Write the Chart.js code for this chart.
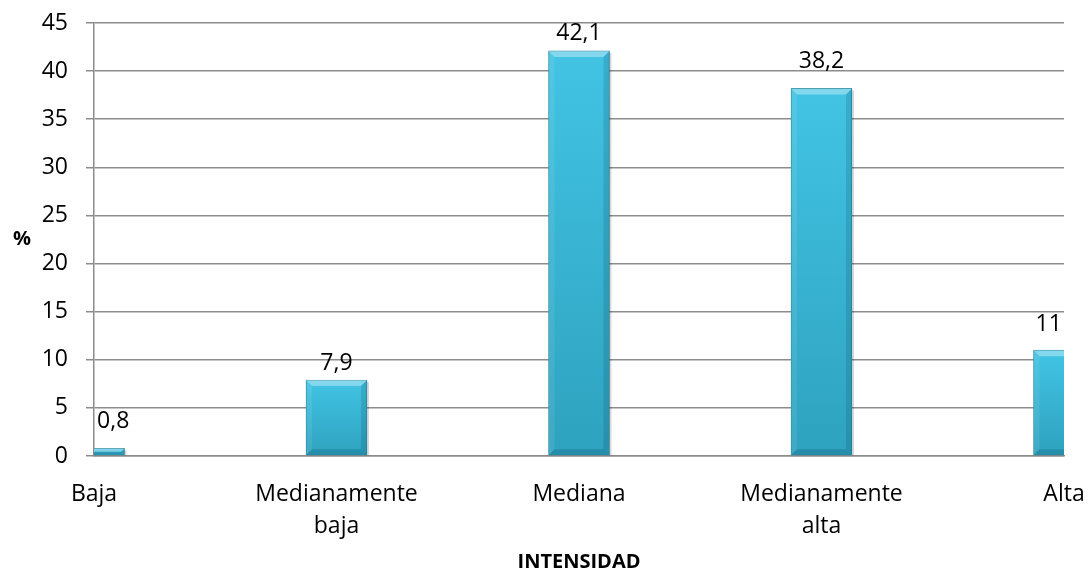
<!DOCTYPE html>
<html>
<head>
<meta charset="utf-8">
<script src="https://cdn.jsdelivr.net/npm/chart.js@4.4.1/dist/chart.umd.min.js"></script>
<style>
  html, body { margin: 0; padding: 0; background: #fff; }
  #wrap { width: 1090px; height: 574px; }
</style>
</head>
<body>
<div id="wrap"><canvas id="chart"></canvas></div>
<script>
// Data
const categories = ["Baja", ["Medianamente", "baja"], "Mediana", ["Medianamente", "alta"], "Alta"];
const percentages = [0.8, 7.9, 42.1, 38.2, 11];
const yMin = 0;
const yMax = 45;
const yStep = 5;
const xTitle = "INTENSIDAD";
const yTitle = "%";

// how far above each bar its value sits (px)
const labelLift = [27, 17, 17, 27, 26];

const FONT = "'Open Sans', 'Liberation Sans', sans-serif";
const GRID = "#8c8c8c";

// Bar gradient, light at the top, darker at the base
function barFill(context) {
    const chart = context.chart;
    const y = chart.scales.y;
    if (!chart.chartArea || !y) return "#3bbad9";
    const top = y.getPixelForValue(context.raw);
    const bottom = y.getPixelForValue(0);
    const g = chart.ctx.createLinearGradient(0, top, 0, bottom);
    g.addColorStop(0, "#42c4e4");
    g.addColorStop(1, "#2ea2bf");
    return g;
}

// Shadow + bevel + value labels
const barExtras = {
    id: "barExtras",
    beforeDatasetsDraw(chart) {
        const { ctx, chartArea: a } = chart;
        ctx.save();
        ctx.beginPath();
        ctx.rect(a.left, a.top, a.right - a.left, a.bottom - a.top);
        ctx.clip();
        chart.getDatasetMeta(0).data.forEach(bar => {
            const l = bar.x - bar.width / 2;
            ctx.fillStyle = "rgba(0,0,0,0.15)";
            ctx.fillRect(l + 2, bar.y + 2, bar.width, bar.base - bar.y - 2);
        });
        ctx.restore();
    },
    afterDatasetsDraw(chart) {
        const { ctx, chartArea: a } = chart;
        const meta = chart.getDatasetMeta(0);
        ctx.save();
        ctx.beginPath();
        ctx.rect(a.left, a.top, a.right - a.left, a.bottom - a.top);
        ctx.clip();
        meta.data.forEach(bar => {
            const l = bar.x - bar.width / 2, r = bar.x + bar.width / 2;
            const t = bar.y, b = bar.base;
            const s = Math.min(6, (b - t) / 2);
            const poly = (pts, col) => {
                ctx.beginPath();
                ctx.moveTo(pts[0][0], pts[0][1]);
                pts.slice(1).forEach(p => ctx.lineTo(p[0], p[1]));
                ctx.closePath();
                ctx.fillStyle = col;
                ctx.fill();
            };
            poly([[l, t], [r, t], [r - s, t + s], [l + s, t + s]], "rgba(255,255,255,0.35)");
            poly([[l, t], [l + s, t + s], [l + s, b - s], [l, b]], "rgba(255,255,255,0.08)");
            poly([[r, t], [r - s, t + s], [r - s, b - s], [r, b]], "rgba(0,50,70,0.15)");
            poly([[l, b], [l + s, b - s], [r - s, b - s], [r, b]], "rgba(0,50,70,0.18)");
        });
        ctx.restore();

        // value labels, centred on the visible part of each bar
        ctx.save();
        ctx.font = "23px " + FONT;
        ctx.fillStyle = "#000";
        ctx.textAlign = "center";
        ctx.textBaseline = "middle";
        meta.data.forEach((bar, i) => {
            const l = Math.max(bar.x - bar.width / 2, a.left);
            const r = Math.min(bar.x + bar.width / 2, a.right);
            const txt = String(percentages[i]).replace(".", ",");
            ctx.fillText(txt, (l + r) / 2 + (i === 0 ? 4 : 0), bar.y - labelLift[i]);
        });

        // y title, kept horizontal
        ctx.font = "bold 20px " + FONT;
        ctx.fillText(yTitle, 22, (a.top + a.bottom) / 2);
        ctx.restore();
    }
};

new Chart(document.getElementById("chart"), {
    type: "bar",
    data: {
        labels: categories,
        datasets: [{
            data: percentages,
            backgroundColor: barFill,
            borderColor: "#2a8aa3",
            borderWidth: 1,
            barThickness: 61,
            clip: 0
        }]
    },
    options: {
        responsive: true,
        maintainAspectRatio: false,
        animation: false,
        layout: { padding: { top: 23, right: 26, left: 0, bottom: 0 } },
        plugins: { legend: { display: false }, tooltip: { enabled: false } },
        scales: {
            x: {
                offset: false,
                grid: { display: false },
                border: { display: true, color: GRID, width: 1.5 },
                ticks: {
                    color: "#000",
                    font: { family: FONT, size: 23, lineHeight: 1.39 },
                    padding: 14,
                    maxRotation: 0,
                    autoSkip: false
                },
                title: {
                    display: true,
                    text: xTitle,
                    color: "#000",
                    font: { family: FONT, size: 20, weight: "bold" },
                    padding: { top: 0, bottom: 0 }
                },
                afterFit(scale) {
                    scale.height = 118;
                    scale.paddingLeft = 0;
                    scale.paddingRight = 0;
                }
            },
            y: {
                min: yMin,
                max: yMax,
                ticks: {
                    stepSize: yStep,
                    color: "#000",
                    font: { family: FONT, size: 23 },
                    padding: 18
                },
                grid: { color: GRID, lineWidth: 1.5, tickLength: 8 },
                border: { display: true, color: GRID, width: 1.5 },
                afterFit(scale) {
                    scale.width = 94;
                    scale.paddingTop = 0;
                    scale.paddingBottom = 0;
                }
            }
        }
    },
    plugins: [barExtras]
});
</script>
</body>
</html>
